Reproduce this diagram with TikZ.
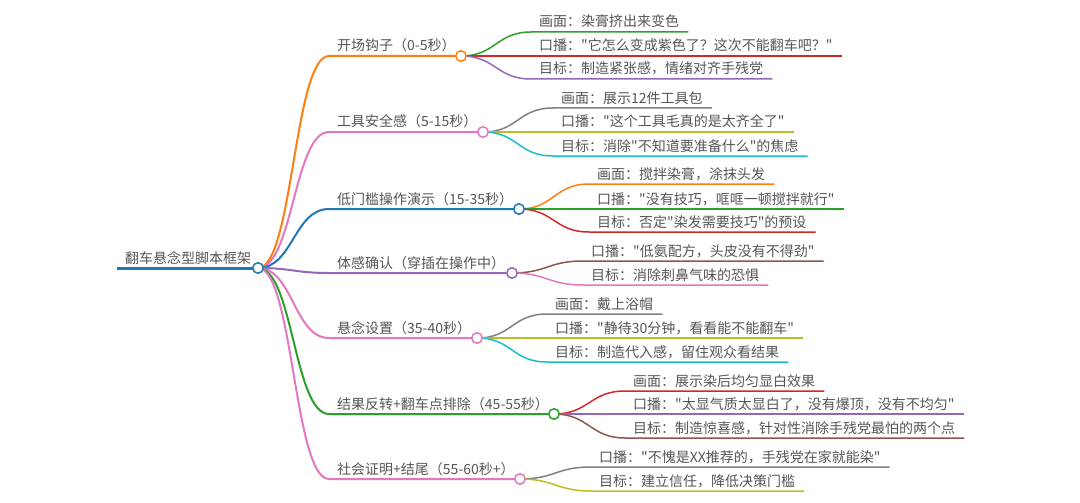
\documentclass[tikz,border=0pt]{standalone}
\usepackage{fontspec}
\setmainfont{Noto Sans CJK SC}[Ligatures=TeXOff]

\definecolor{c-blue}{HTML}{1F77B4}
\definecolor{c-orange}{HTML}{FF7F0E}
\definecolor{c-green}{HTML}{2CA02C}
\definecolor{c-red}{HTML}{D62728}
\definecolor{c-purple}{HTML}{9467BD}
\definecolor{c-brown}{HTML}{8C564B}
\definecolor{c-pink}{HTML}{E377C2}
\definecolor{c-gray}{HTML}{7F7F7F}
\definecolor{c-olive}{HTML}{BCBD22}
\definecolor{c-cyan}{HTML}{17BECF}
\definecolor{textgray}{HTML}{555555}

\begin{document}
\begin{tikzpicture}[x=1pt,y=-1pt,
	txt/.style={anchor=base west,inner sep=0pt,font=\fontsize{14}{16}\selectfont,text=textgray},
	knob/.style={circle,draw,fill=white,line width=1.5pt,minimum size=10.5pt,inner sep=0pt},
	rootline/.style={line width=3pt},
	branchline/.style={line width=2pt},
	leafline/.style={line width=1.5pt},
	curvy/.style={out=0,in=180,distance=35pt}]
			
			\useasboundingbox (0,0) rectangle (1080,503);
			
			\coordinate (root) at (258,268);
			\coordinate (root-s) at (117,268);
			\node[txt] (root-txt) at (125,263) {翻车悬念型脚本框架};
			\draw[rootline,c-blue] (root-s) -- (root);
			
			\coordinate (b1) at (461,56);
			\coordinate (b1-s) at (329,56);
			\node[txt] (b1-txt) at (337,51) {开场钩子（0-5秒）};
			\draw[branchline,c-orange] (root) to[curvy] (b1-s) -- (b1);
			
			\coordinate (b2) at (483,132);
			\coordinate (b2-s) at (329,132);
			\node[txt] (b2-txt) at (337,127) {工具安全感（5-15秒）};
			\draw[branchline,c-pink] (root) to[curvy] (b2-s) -- (b2);
			
			\coordinate (b3) at (519,209);
			\coordinate (b3-s) at (329,209);
			\node[txt] (b3-txt) at (337,204) {低门槛操作演示（15-35秒）};
			\draw[branchline,c-blue] (root) to[curvy] (b3-s) -- (b3);
			
			\coordinate (b4) at (512,273);
			\coordinate (b4-s) at (329,273);
			\node[txt] (b4-txt) at (337,268) {体感确认（穿插在操作中）};
			\draw[branchline,c-purple] (root) to[curvy] (b4-s) -- (b4);
			
			\coordinate (b5) at (477,338);
			\coordinate (b5-s) at (329,338);
			\node[txt] (b5-txt) at (337,333) {悬念设置（35-40秒）};
			\draw[branchline,c-pink] (root) to[curvy] (b5-s) -- (b5);
			
			\coordinate (b6) at (554,414);
			\coordinate (b6-s) at (329,414);
			\node[txt] (b6-txt) at (337,409) {结果反转+翻车点排除（45-55秒）};
			\draw[branchline,c-green] (root) to[curvy] (b6-s) -- (b6);
			
			\coordinate (b7) at (520,479);
			\coordinate (b7-s) at (329,479);
			\node[txt] (b7-txt) at (337,474) {社会证明+结尾（55-60秒+）};
			\draw[branchline,c-pink] (root) to[curvy] (b7-s) -- (b7);
			
			\coordinate (l1a-s) at (531,32);
			\node[txt] (l1a-txt) at (539,27) {画面：染膏挤出来变色};
			\draw[leafline,c-green] (b1) to[curvy] (l1a-s) -- (l1a-s -| l1a-txt.east) -- ++(9,0);
			
			\coordinate (l1b-s) at (531,56);
			\node[txt] (l1b-txt) at (539,51) {口播："它怎么变成紫色了？这次不能翻车吧？"};
			\draw[leafline,c-red] (b1) to[curvy] (l1b-s) -- (l1b-s -| l1b-txt.east) -- ++(9,0);
			
			\coordinate (l1c-s) at (531,79);
			\node[txt] (l1c-txt) at (539,74) {目标：制造紧张感，情绪对齐手残党};
			\draw[leafline,c-purple] (b1) to[curvy] (l1c-s) -- (l1c-s -| l1c-txt.east) -- ++(9,0);
			
			\coordinate (l2a-s) at (553,108);
			\node[txt] (l2a-txt) at (561,103) {画面：展示12件工具包};
			\draw[leafline,c-gray] (b2) to[curvy] (l2a-s) -- (l2a-s -| l2a-txt.east) -- ++(9,0);
			
			\coordinate (l2b-s) at (553,132);
			\node[txt] (l2b-txt) at (561,127) {口播："这个工具毛真的是太齐全了"};
			\draw[leafline,c-olive] (b2) to[curvy] (l2b-s) -- (l2b-s -| l2b-txt.east) -- ++(9,0);
			
			\coordinate (l2c-s) at (553,156);
			\node[txt] (l2c-txt) at (561,151) {目标：消除"不知道要准备什么"的焦虑};
			\draw[leafline,c-cyan] (b2) to[curvy] (l2c-s) -- (l2c-s -| l2c-txt.east) -- ++(9,0);
			
			\coordinate (l3a-s) at (589,184);
			\node[txt] (l3a-txt) at (597,179) {画面：搅拌染膏，涂抹头发};
			\draw[leafline,c-orange] (b3) to[curvy] (l3a-s) -- (l3a-s -| l3a-txt.east) -- ++(9,0);
			
			\coordinate (l3b-s) at (589,209);
			\node[txt] (l3b-txt) at (597,204) {口播："没有技巧，哐哐一顿搅拌就行"};
			\draw[leafline,c-green] (b3) to[curvy] (l3b-s) -- (l3b-s -| l3b-txt.east) -- ++(9,0);
			
			\coordinate (l3c-s) at (589,232);
			\node[txt] (l3c-txt) at (597,227) {目标：否定"染发需要技巧"的预设};
			\draw[leafline,c-red] (b3) to[curvy] (l3c-s) -- (l3c-s -| l3c-txt.east) -- ++(9,0);
			
			\coordinate (l4a-s) at (583,261);
			\node[txt] (l4a-txt) at (591,256) {口播："低氨配方，头皮没有不得劲"};
			\draw[leafline,c-brown] (b4) to[curvy] (l4a-s) -- (l4a-s -| l4a-txt.east) -- ++(9,0);
			
			\coordinate (l4b-s) at (583,285);
			\node[txt] (l4b-txt) at (591,280) {目标：消除刺鼻气味的恐惧};
			\draw[leafline,c-pink] (b4) to[curvy] (l4b-s) -- (l4b-s -| l4b-txt.east) -- ++(9,0);
			
			\coordinate (l5a-s) at (547,314);
			\node[txt] (l5a-txt) at (555,309) {画面：戴上浴帽};
			\draw[leafline,c-gray] (b5) to[curvy] (l5a-s) -- (l5a-s -| l5a-txt.east) -- ++(9,0);
			
			\coordinate (l5b-s) at (547,338);
			\node[txt] (l5b-txt) at (555,333) {口播："静待30分钟，看看能不能翻车"};
			\draw[leafline,c-olive] (b5) to[curvy] (l5b-s) -- (l5b-s -| l5b-txt.east) -- ++(9,0);
			
			\coordinate (l5c-s) at (547,362);
			\node[txt] (l5c-txt) at (555,357) {目标：制造代入感，留住观众看结果};
			\draw[leafline,c-cyan] (b5) to[curvy] (l5c-s) -- (l5c-s -| l5c-txt.east) -- ++(9,0);
			
			\coordinate (l6a-s) at (625,391);
			\node[txt] (l6a-txt) at (633,386) {画面：展示染后均匀显白效果};
			\draw[leafline,c-red] (b6) to[curvy] (l6a-s) -- (l6a-s -| l6a-txt.east) -- ++(9,0);
			
			\coordinate (l6b-s) at (625,414);
			\node[txt] (l6b-txt) at (633,409) {口播："太显气质太显白了，没有爆顶，没有不均匀"};
			\draw[leafline,c-purple] (b6) to[curvy] (l6b-s) -- (l6b-s -| l6b-txt.east) -- ++(9,0);
			
			\coordinate (l6c-s) at (625,438);
			\node[txt] (l6c-txt) at (633,433) {目标：制造惊喜感，针对性消除手残党最怕的两个点};
			\draw[leafline,c-brown] (b6) to[curvy] (l6c-s) -- (l6c-s -| l6c-txt.east) -- ++(9,0);
			
			\coordinate (l7a-s) at (591,467);
			\node[txt] (l7a-txt) at (599,462) {口播："不愧是XX推荐的，手残党在家就能染"};
			\draw[leafline,c-gray] (b7) to[curvy] (l7a-s) -- (l7a-s -| l7a-txt.east) -- ++(9,0);
			
			\coordinate (l7b-s) at (591,491);
			\node[txt] (l7b-txt) at (599,486) {目标：建立信任，降低决策门槛};
			\draw[leafline,c-olive] (b7) to[curvy] (l7b-s) -- (l7b-s -| l7b-txt.east) -- ++(9,0);
			
			\node[knob,draw=c-blue] (root-knob) at (root) {};
			\node[knob,draw=c-orange] (b1-knob) at (b1) {};
			\node[knob,draw=c-pink] (b2-knob) at (b2) {};
			\node[knob,draw=c-blue] (b3-knob) at (b3) {};
			\node[knob,draw=c-purple] (b4-knob) at (b4) {};
			\node[knob,draw=c-pink] (b5-knob) at (b5) {};
			\node[knob,draw=c-green] (b6-knob) at (b6) {};
			\node[knob,draw=c-pink] (b7-knob) at (b7) {};
			
		\end{tikzpicture}
\end{document}
